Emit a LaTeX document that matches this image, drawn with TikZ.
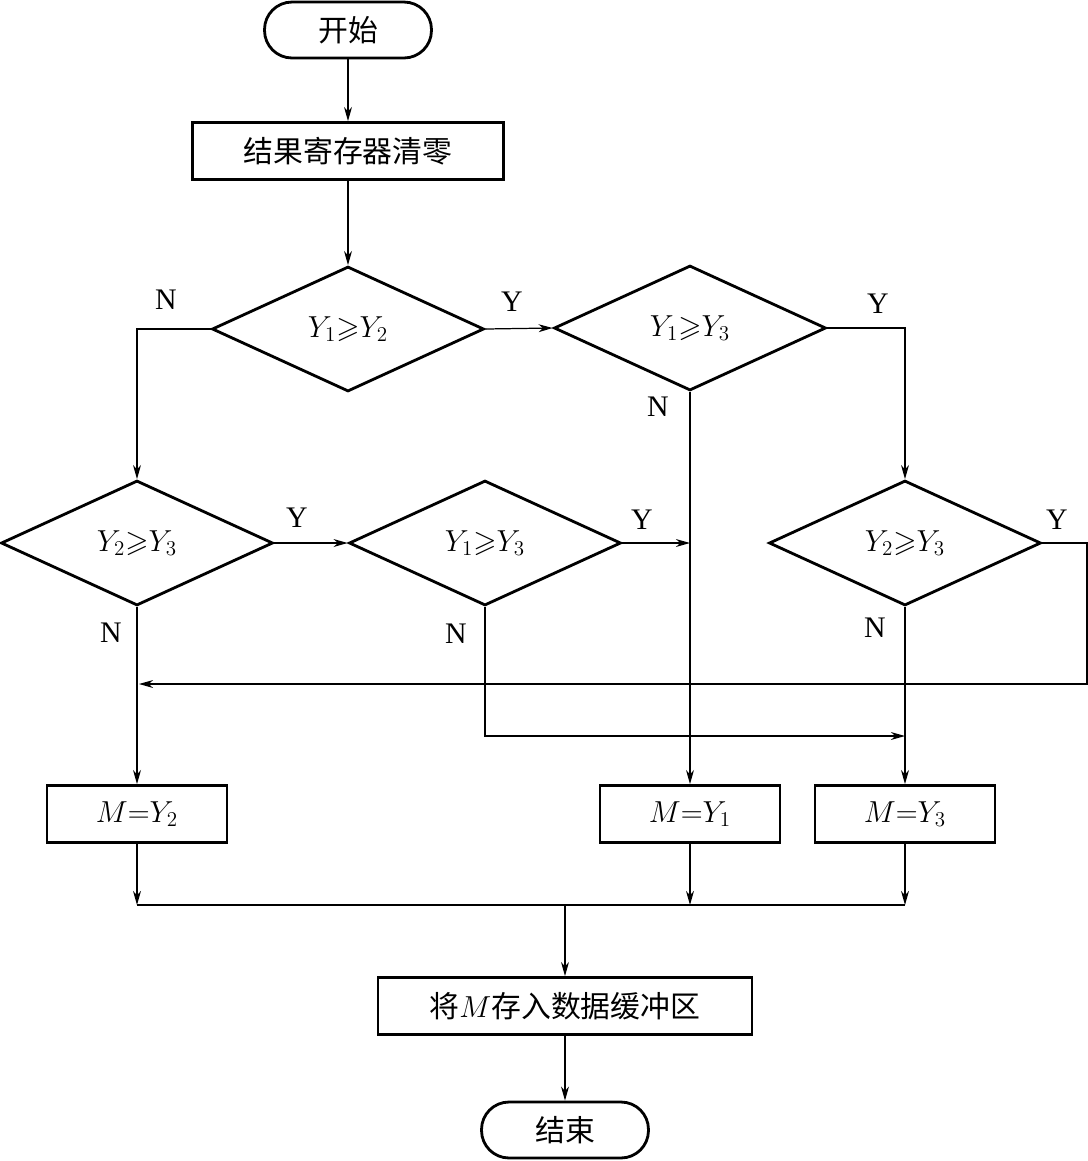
\documentclass[tikz,border=0pt]{standalone}
\usepackage{amssymb}
\usepackage{fontspec}
\setmainfont{Liberation Serif}
\newfontfamily\cjk{Noto Sans CJK SC}
\usetikzlibrary{shapes.geometric,arrows.meta}

\tikzset{
  term/.style={draw,line width=1.6pt,rounded corners=0.55cm,minimum width=3.34cm,minimum height=1.12cm,inner sep=0pt,font=\cjk\fontsize{17}{19}\selectfont},
  proc/.style={draw,line width=1.6pt,minimum height=1.14cm,inner sep=0pt,font=\cjk\fontsize{17}{19}\selectfont},
  test/.style={draw,diamond,line width=1.6pt,minimum width=5.44cm,minimum height=2.5cm,inner sep=0pt,font=\fontsize{17}{19}\selectfont},
  flow/.style={line width=0.7pt,-{Stealth[length=8pt,width=4.5pt,inset=2.5pt]}},
  link/.style={line width=0.7pt},
  lab/.style={font=\fontsize{17}{19}\selectfont,inner sep=0pt}
}

\begin{document}
\begin{tikzpicture}[x=0.02cm,y=-0.02cm]
\useasboundingbox (0,0) rectangle (1088,1161);
%blocks
\node[term] (start) at (348,30) {开始};
\node[proc,minimum width=6.22cm] (clr) at (348,151) {结果寄存器清零};
\node[test] (d1) at (348,329) {$Y_1{\geqslant}Y_2$};
\node[test] (d2) at (690,328) {$Y_1{\geqslant}Y_3$};
\node[test] (d3) at (137,543) {$Y_2{\geqslant}Y_3$};
\node[test] (d4) at (485,543) {$Y_1{\geqslant}Y_3$};
\node[test] (d5) at (905,543) {$Y_2{\geqslant}Y_3$};
\node[proc,minimum width=3.6cm] (m2) at (137,814) {$M{=}Y_2$};
\node[proc,minimum width=3.6cm] (m1) at (690,814) {$M{=}Y_1$};
\node[proc,minimum width=3.6cm] (m3) at (905,814) {$M{=}Y_3$};
\node[proc,minimum width=7.48cm] (save) at (565,1006) {将$M$存入数据缓冲区};
\node[term] (stop) at (565,1130) {结束};
%joints
\coordinate (j1) at (690,543);
\coordinate (j2) at (905,736);
\coordinate (r1) at (1087,684);
\coordinate (j3) at (139,684);
\coordinate (k2) at (137,905);
\coordinate (k1) at (690,905);
\coordinate (k3) at (905,905);
\coordinate (k0) at (565,905);
%connectors
\draw[flow] (start) -- (clr);
\draw[flow] (clr) -- (d1);
\draw[flow] (d1.west) -| (d3.north);
\draw[flow] (d1.east) -- (d2.west);
\draw[flow] (d2.east) -| (d5.north);
\draw[flow] (d2.south) -- (m1.north);
\draw[flow] (d3.east) -- (d4.west);
\draw[flow] (d3.south) -- (m2.north);
\draw[flow] (d4.east) -- (j1);
\draw[flow] (d4.south) |- (j2);
\draw[flow] (d5.east) -| (r1) -- (j3);
\draw[flow] (d5.south) -- (m3.north);
\draw[flow] (m2.south) -- (k2);
\draw[flow] (m1.south) -- (k1);
\draw[flow] (m3.south) -- (k3);
\draw[link] (k2) -- (k3);
\draw[flow] (k0) -- (save);
\draw[flow] (save) -- (stop);
%labels
\node[lab] (n1) at (166,300) {N};
\node[lab] (y1) at (512,302) {Y};
\node[lab] (y2) at (878,304) {Y};
\node[lab] (n2) at (658,407) {N};
\node[lab] (y3) at (297,518) {Y};
\node[lab] (y4) at (642,520) {Y};
\node[lab] (y5) at (1057,520) {Y};
\node[lab] (n3) at (111,633) {N};
\node[lab] (n4) at (456,634) {N};
\node[lab] (n5) at (875,628) {N};
\end{tikzpicture}
\end{document}
